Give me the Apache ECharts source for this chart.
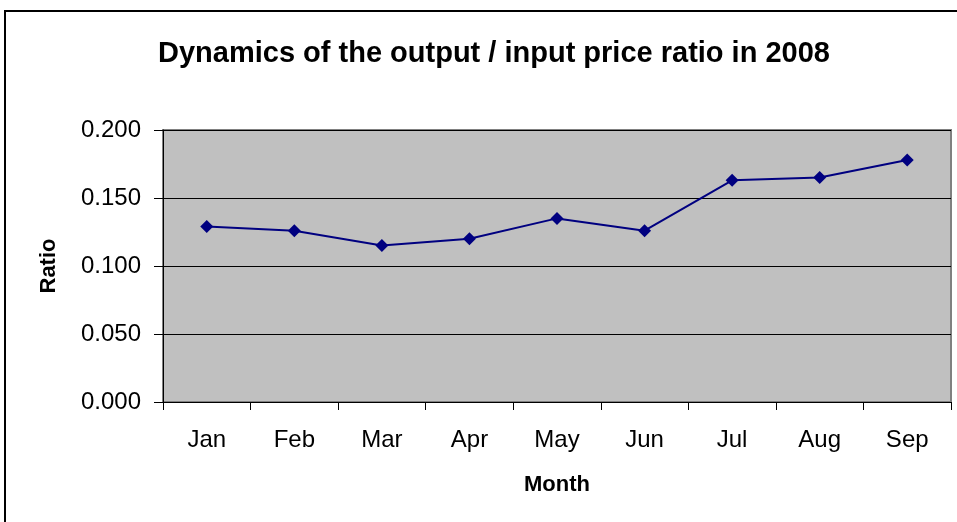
<!DOCTYPE html>
<html>
<head>
<meta charset="utf-8">
<script src="https://cdn.jsdelivr.net/npm/echarts@6/dist/echarts.min.js"></script>
<style>
html,body{margin:0;padding:0;background:#fff;}
#c{width:957px;height:522px;}
</style>
</head>
<body>
<div id="c"></div>
<script>
const months = ['Jan','Feb','Mar','Apr','May','Jun','Jul','Aug','Sep'];
const ratios = [0.129, 0.126, 0.115, 0.120, 0.135, 0.126, 0.163, 0.165, 0.178];
const yTicks = {min: 0, max: 0.2, interval: 0.05};

const chart = echarts.init(document.getElementById('c'), null, {renderer: 'canvas'});
const font = 'Arial, "Liberation Sans", sans-serif';
chart.setOption({
  backgroundColor: '#fff',
  animation: false,
  title: {
    text: 'Dynamics of the output / input price ratio in 2008',
    left: 489, top: 34, textAlign: 'center',
    textStyle: {fontFamily: font, fontSize: 29, fontWeight: 'bold', color: '#000'}
  },
  graphic: [{
    type: 'rect', shape: {x: 5, y: 11, width: 1000, height: 600},
    style: {fill: 'none', stroke: '#000', lineWidth: 2}, silent: true
  }],
  grid: {
    left: 163, right: 6, top: 130, bottom: 120,
    show: true, backgroundColor: '#c0c0c0', borderColor: '#808080', borderWidth: 2
  },
  xAxis: {
    type: 'category', data: months, boundaryGap: true,
    name: 'Month', nameLocation: 'middle', nameGap: 72,
    nameTextStyle: {fontFamily: font, fontSize: 22, fontWeight: 'bold', color: '#000'},
    axisLine: {show: true, lineStyle: {color: '#000', width: 1}},
    axisTick: {show: true, length: 8, alignWithLabel: false, lineStyle: {color: '#000'}},
    axisLabel: {fontFamily: font, fontSize: 24, color: '#000', margin: 26},
    splitLine: {show: false}
  },
  yAxis: {
    type: 'value', min: yTicks.min, max: yTicks.max, interval: yTicks.interval,
    name: 'Ratio', nameLocation: 'middle', nameGap: 103, nameRotate: 90,
    nameTextStyle: {fontFamily: font, fontSize: 22, fontWeight: 'bold', color: '#000'},
    axisLine: {show: true, lineStyle: {color: '#000', width: 1}},
    axisTick: {show: true, length: 9, lineStyle: {color: '#000'}},
    axisLabel: {fontFamily: font, fontSize: 24, color: '#000', margin: 22,
      formatter: v => v.toFixed(3)},
    splitLine: {show: true, lineStyle: {color: '#000', width: 1}}
  },
  series: [{
    type: 'line', data: ratios,
    symbol: 'diamond', symbolSize: 13,
    itemStyle: {color: '#000080'},
    lineStyle: {color: '#000080', width: 2}
  }]
});
</script>
</body>
</html>
